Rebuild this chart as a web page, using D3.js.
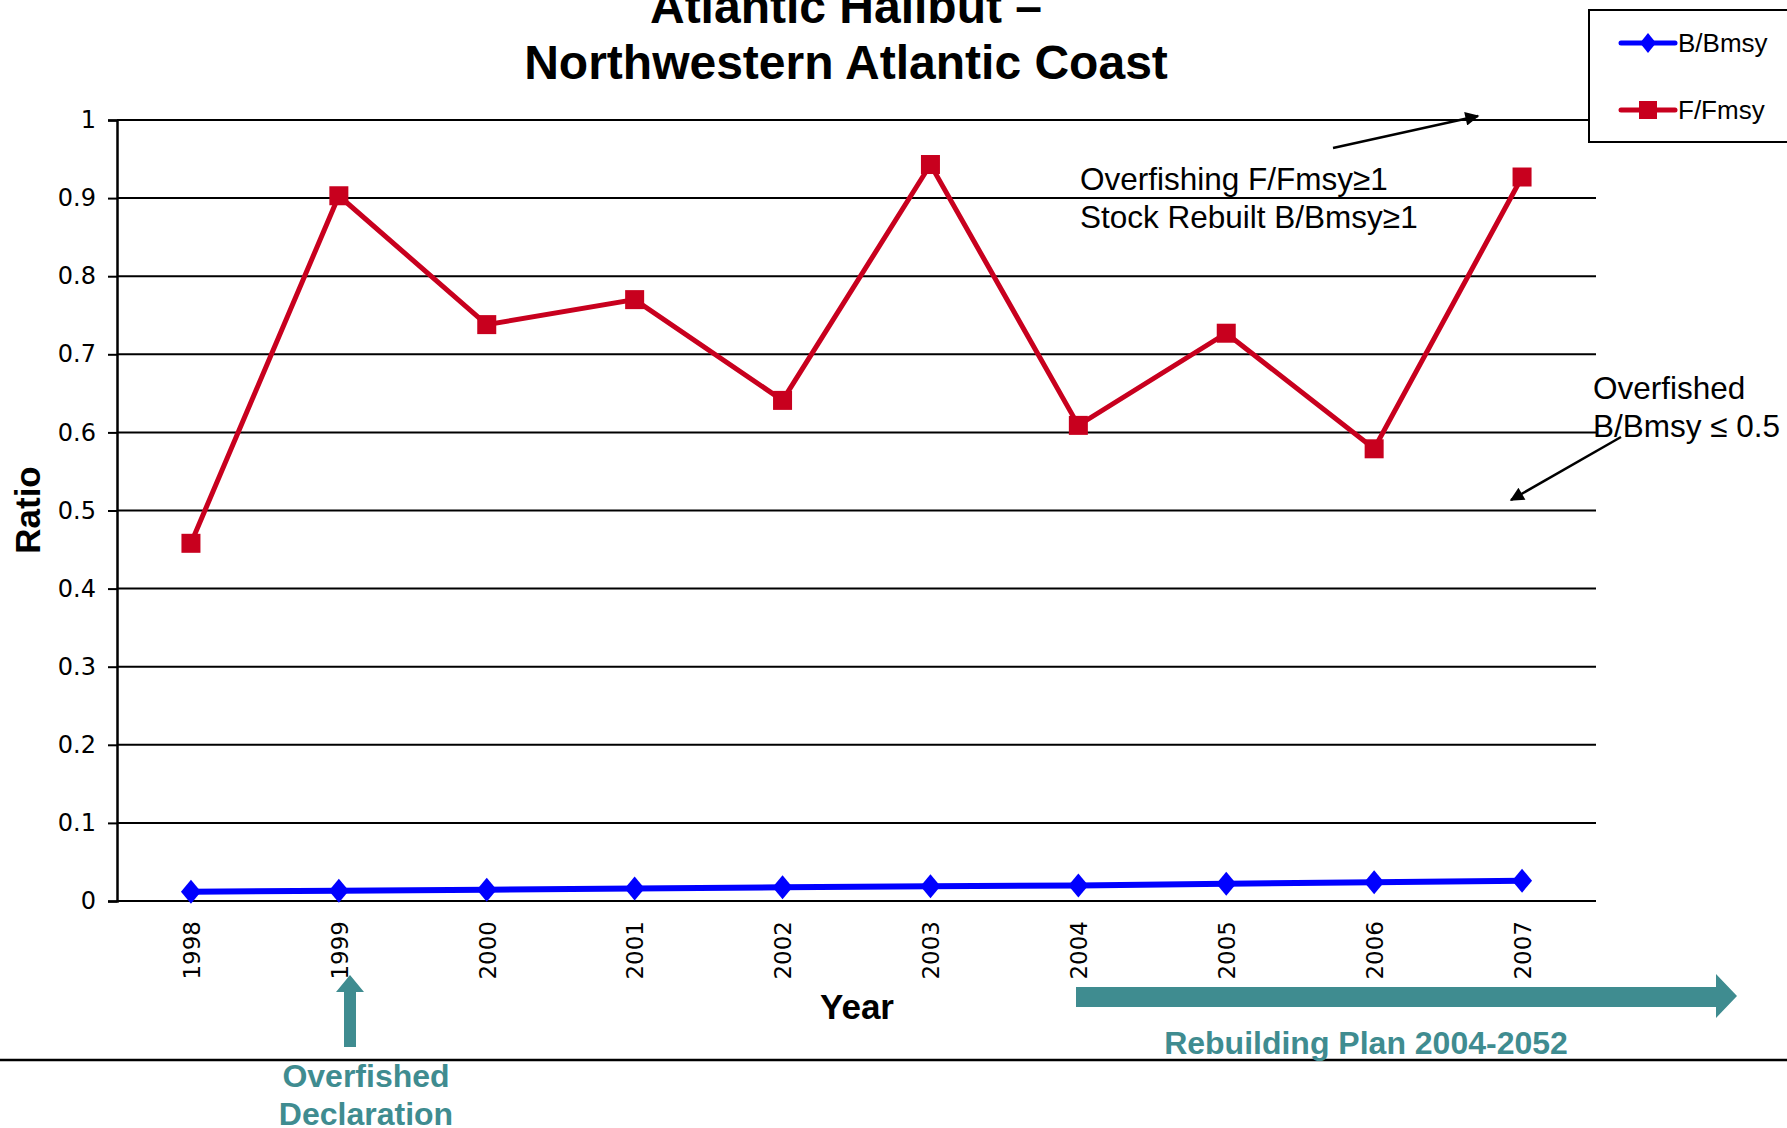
<!DOCTYPE html>
<html>
<head>
<meta charset="utf-8">
<script src="https://cdn.jsdelivr.net/npm/d3@7"></script>
<style>
  body { margin: 0; background: #fff; }
  svg { display: block; }
</style>
</head>
<body>
<div id="chart"></div>
<script>
// data
var years = ["1998","1999","2000","2001","2002","2003","2004","2005","2006","2007"];
var bBmsy = [0.012, 0.013, 0.0145, 0.016, 0.0175, 0.019, 0.020, 0.022, 0.024, 0.026];
var fFmsy = [0.458, 0.903, 0.738, 0.770, 0.641, 0.943, 0.609, 0.727, 0.579, 0.927];
var yTicks = [0, 0.1, 0.2, 0.3, 0.4, 0.5, 0.6, 0.7, 0.8, 0.9, 1];
var yTickLabels = ["0","0.1","0.2","0.3","0.4","0.5","0.6","0.7","0.8","0.9","1"];
var seriesNames = ["B/Bmsy", "F/Fmsy"];
var titleLines = ["Atlantic Halibut \u2013", "Northwestern Atlantic Coast"];

var W = 1787, H = 1128;
var plotLeft = 117, plotRight = 1596, plotTop = 120, plotBottom = 901;
var blue = "#0000ff", red = "#c8001e", teal = "#3f8c90";

var svg = d3.select("#chart").append("svg")
    .attr("width", W)
    .attr("height", H);

var x = d3.scalePoint()
    .domain(years)
    .range([plotLeft, plotRight])
    .padding(0.5);

var y = d3.scaleLinear()
    .domain([0, 1])
    .range([plotBottom, plotTop]);

// gridlines
svg.append("g").selectAll("line")
    .data(yTicks)
    .enter().append("line")
    .attr("x1", plotLeft)
    .attr("x2", plotRight)
    .attr("y1", function(d) { return y(d); })
    .attr("y2", function(d) { return y(d); })
    .style("stroke", "#000")
    .style("stroke-width", 2);

// y axis
var yAxis = svg.append("g")
    .attr("transform", "translate(" + plotLeft + ",0)")
    .call(d3.axisLeft(y)
      .tickValues(yTicks)
      .tickSize(9)
      .tickPadding(12)
      .tickFormat(function(d, i) { return yTickLabels[i]; }));
yAxis.select(".domain").style("stroke", "#000").style("stroke-width", 2.5);
yAxis.selectAll(".tick line").style("stroke", "#000").style("stroke-width", 2);
yAxis.selectAll("text")
    .style("font-family", "DejaVu Sans")
    .style("font-size", "24px")
    .style("fill", "#000");

// x axis, labels rotated
var xAxis = svg.append("g")
    .attr("transform", "translate(0," + plotBottom + ")")
    .call(d3.axisBottom(x).tickSize(0));
xAxis.select(".domain").remove();
xAxis.selectAll("text")
    .attr("transform", "translate(0,20) rotate(-90)")
    .attr("x", 0)
    .attr("y", 0)
    .attr("dy", "0.36em")
    .attr("text-anchor", "end")
    .style("font-family", "DejaVu Sans")
    .style("font-size", "23px")
    .style("fill", "#000");

// F/Fmsy line
var line = d3.line()
    .x(function(d, i) { return x(years[i]); })
    .y(function(d) { return y(d); });

svg.append("path")
    .datum(fFmsy)
    .attr("d", line)
    .style("fill", "none")
    .style("stroke", red)
    .style("stroke-width", 5);

svg.append("g").selectAll("rect")
    .data(fFmsy)
    .enter().append("rect")
    .attr("x", function(d, i) { return x(years[i]) - 9.5; })
    .attr("y", function(d) { return y(d) - 9.5; })
    .attr("width", 19)
    .attr("height", 19)
    .style("fill", red);

// B/Bmsy line
svg.append("path")
    .datum(bBmsy)
    .attr("d", line)
    .style("fill", "none")
    .style("stroke", blue)
    .style("stroke-width", 6);

var diamond = "M0,-12L10,0L0,12L-10,0Z";
svg.append("g").selectAll("path")
    .data(bBmsy)
    .enter().append("path")
    .attr("d", diamond)
    .attr("transform", function(d, i) { return "translate(" + x(years[i]) + "," + y(d) + ")"; })
    .style("fill", blue);

// title
svg.append("g").selectAll("text")
    .data(titleLines)
    .enter().append("text")
    .attr("x", 846)
    .attr("y", function(d, i) { return 23 + i * 56; })
    .attr("text-anchor", "middle")
    .style("font-family", "Liberation Sans, Arial, sans-serif")
    .style("font-weight", "bold")
    .style("font-size", "48px")
    .text(function(d) { return d; });

// axis titles
svg.append("text")
    .attr("transform", "translate(40,510) rotate(-90)")
    .attr("text-anchor", "middle")
    .style("font-family", "Liberation Sans, Arial, sans-serif")
    .style("font-weight", "bold")
    .style("font-size", "35px")
    .text("Ratio");

svg.append("text")
    .attr("x", 857)
    .attr("y", 1019)
    .attr("text-anchor", "middle")
    .style("font-family", "Liberation Sans, Arial, sans-serif")
    .style("font-weight", "bold")
    .style("font-size", "35px")
    .text("Year");

// legend
var legend = svg.append("g");
legend.append("rect")
    .attr("x", 1589)
    .attr("y", 10)
    .attr("width", 220)
    .attr("height", 132)
    .style("fill", "#fff")
    .style("stroke", "#000")
    .style("stroke-width", 2);

var legendY = [43, 110];
seriesNames.forEach(function(name, i) {
  var c = i === 0 ? blue : red;
  legend.append("line")
      .attr("x1", 1621).attr("x2", 1675)
      .attr("y1", legendY[i]).attr("y2", legendY[i])
      .style("stroke", c)
      .style("stroke-width", 5)
      .style("stroke-linecap", "round");
  if (i === 0) {
    legend.append("path")
        .attr("d", "M0,-10L8,0L0,10L-8,0Z")
        .attr("transform", "translate(1648," + legendY[i] + ")")
        .style("fill", c);
  } else {
    legend.append("rect")
        .attr("x", 1639).attr("y", legendY[i] - 9)
        .attr("width", 18).attr("height", 18)
        .style("fill", c);
  }
  legend.append("text")
      .attr("x", 1678)
      .attr("y", legendY[i] + 9)
      .style("font-family", "Liberation Sans, Arial, sans-serif")
      .style("font-size", "26px")
      .text(name);
});

// annotations
svg.append("defs").append("marker")
    .attr("id", "head")
    .attr("viewBox", "0 0 10 10")
    .attr("refX", 9)
    .attr("refY", 5)
    .attr("markerWidth", 18)
    .attr("markerHeight", 14)
    .attr("markerUnits", "userSpaceOnUse")
    .attr("orient", "auto")
  .append("path")
    .attr("d", "M0,0L10,5L0,10Z")
    .style("fill", "#000");

svg.append("line")
    .attr("x1", 1333).attr("y1", 148)
    .attr("x2", 1478).attr("y2", 116)
    .style("stroke", "#000")
    .style("stroke-width", 2.5)
    .attr("marker-end", "url(#head)");
svg.append("line")
    .attr("x1", 1621).attr("y1", 437)
    .attr("x2", 1511).attr("y2", 500)
    .style("stroke", "#000")
    .style("stroke-width", 2.5)
    .attr("marker-end", "url(#head)");

var note = svg.append("g")
    .style("font-family", "Liberation Sans, Arial, sans-serif")
    .style("font-size", "31.5px");
note.append("text").attr("x", 1080).attr("y", 190).text("Overfishing F/Fmsy\u22651");
note.append("text").attr("x", 1080).attr("y", 228).text("Stock Rebuilt B/Bmsy\u22651");
note.append("text").attr("x", 1593).attr("y", 399).text("Overfished");
note.append("text").attr("x", 1593).attr("y", 437).text("B/Bmsy \u2264 0.5");

// bottom rule
svg.append("line")
    .attr("x1", 0).attr("x2", W)
    .attr("y1", 1060).attr("y2", 1060)
    .style("stroke", "#000")
    .style("stroke-width", 2.5);

// teal arrows
svg.append("path")
    .attr("d", "M344,1047L344,992L336,992L350,975L364,992L356,992L356,1047Z")
    .style("fill", teal);
svg.append("path")
    .attr("d", "M1076,987L1716,987L1716,974L1737,996L1716,1018L1716,1007L1076,1007Z")
    .style("fill", teal);

var tealText = svg.append("g")
    .style("font-family", "Liberation Sans, Arial, sans-serif")
    .style("font-weight", "bold")
    .style("font-size", "32px")
    .style("fill", teal)
    .attr("text-anchor", "middle");
tealText.append("text").attr("x", 1366).attr("y", 1054).text("Rebuilding Plan 2004-2052");
tealText.append("text").attr("x", 366).attr("y", 1087).text("Overfished");
tealText.append("text").attr("x", 366).attr("y", 1125).text("Declaration");
</script>
</body>
</html>
